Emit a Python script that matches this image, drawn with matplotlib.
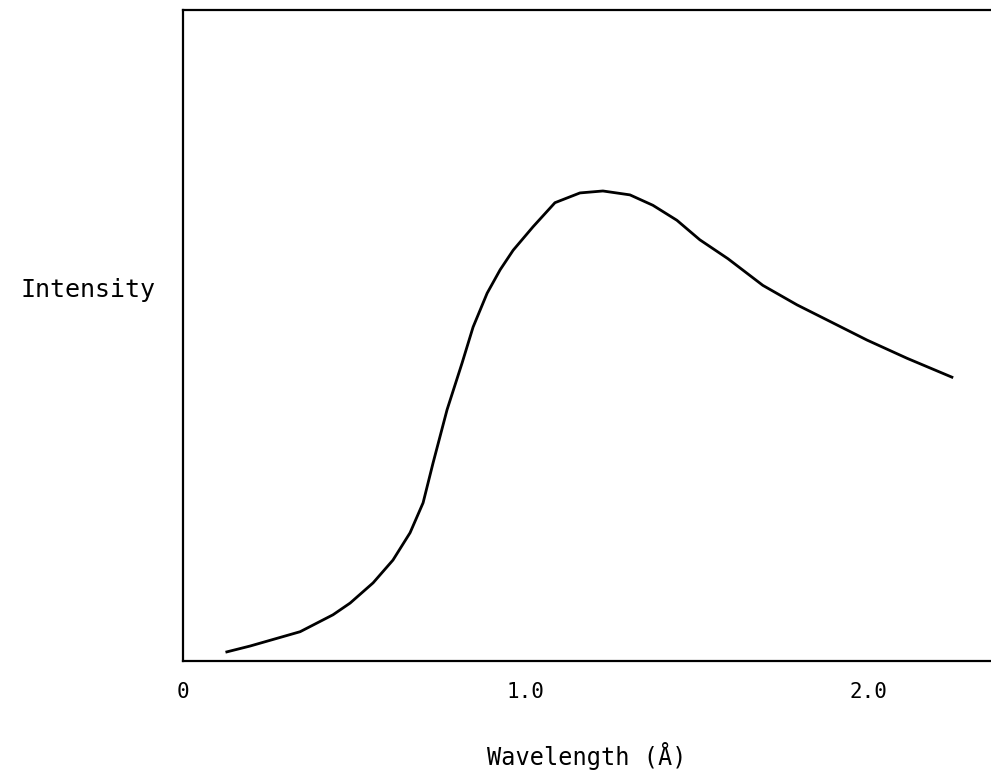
import numpy as np
import matplotlib.pyplot as plt

# curve (wavelength in Angstrom, relative intensity)
wavelength = [0.128, 0.196, 0.342, 0.438, 0.488, 0.555, 0.613, 0.663, 0.701, 0.730,
              0.771, 0.815, 0.847, 0.888, 0.926, 0.964, 1.022, 1.086, 1.159, 1.226,
              1.305, 1.372, 1.442, 1.509, 1.591, 1.693, 1.793, 1.880, 1.997, 2.114, 2.245]
intensity = [0.014, 0.023, 0.045, 0.071, 0.089, 0.120, 0.155, 0.197, 0.243, 0.304,
             0.386, 0.458, 0.513, 0.565, 0.601, 0.631, 0.667, 0.704, 0.719, 0.722,
             0.716, 0.700, 0.677, 0.647, 0.618, 0.577, 0.547, 0.524, 0.493, 0.465, 0.436]

xticks = [0, 1.0, 2.0]
xticklabels = ['0', '1.0', '2.0']

plt.rcParams['font.family'] = 'DejaVu Sans Mono'

fig = plt.figure(figsize=(9.91, 7.76), dpi=100)
ax = fig.add_axes([183 / 991, 115 / 776, 1 - 183 / 991, 651 / 776])

ax.plot(wavelength, intensity, color='black', lw=2, solid_joinstyle='round')

ax.set_xlim(0, (991 - 183) / 342.5)
ax.set_ylim(0, 1)

ax.set_xticks(xticks)
ax.set_xticklabels(xticklabels, fontsize=15)
ax.set_yticks([])
ax.tick_params(axis='x', length=0, pad=15)

for s in ['left', 'top', 'bottom']:
    ax.spines[s].set_linewidth(1.6)
ax.spines['right'].set_visible(False)

fig.text(587 / 991, 1 - 756 / 776, 'Wavelength (Å)', ha='center', va='center', fontsize=17)
fig.text(88 / 991, 1 - 290 / 776, 'Intensity', ha='center', va='center', fontsize=18)

fig.savefig('out.png', dpi=100)
